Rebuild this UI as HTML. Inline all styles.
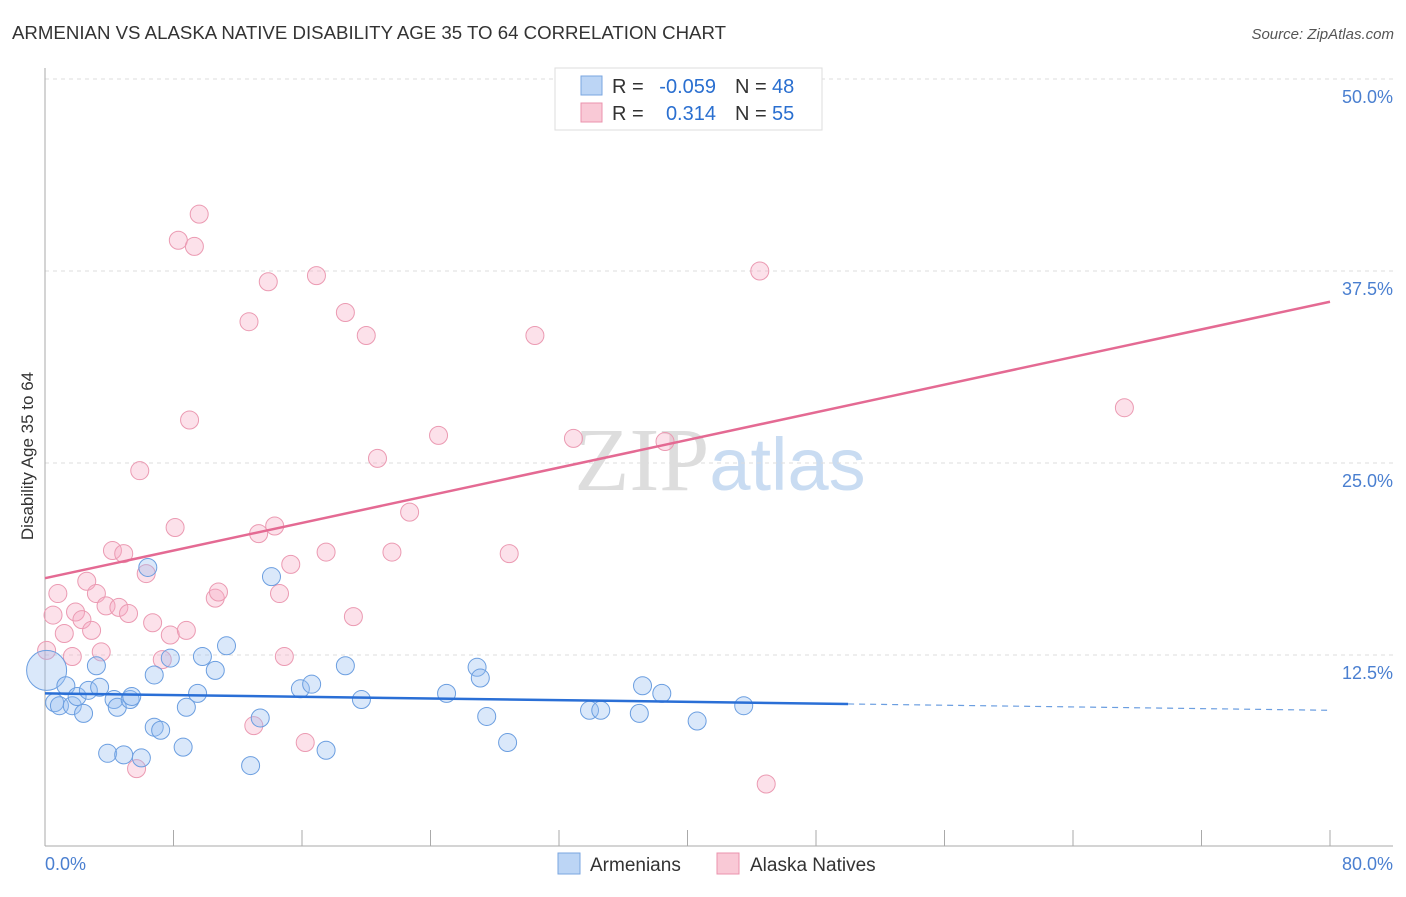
<!DOCTYPE html>
<html><head><meta charset="utf-8"><style>
body{margin:0;background:#fff;font-family:"Liberation Sans",sans-serif}
</style></head><body>
<svg width="1406" height="892" xmlns="http://www.w3.org/2000/svg" id="chart" font-family="Liberation Sans, sans-serif">
<text x="12" y="39" font-size="18" fill="#333" textLength="714" lengthAdjust="spacingAndGlyphs">ARMENIAN VS ALASKA NATIVE DISABILITY AGE 35 TO 64 CORRELATION CHART</text>
<text x="1394" y="39" font-size="15" fill="#555" font-style="italic" text-anchor="end">Source: ZipAtlas.com</text>
<text x="720" y="490" font-size="90" text-anchor="middle"><tspan fill="#ddd" font-family="Liberation Serif, serif">ZIP</tspan><tspan fill="#c9dcf2" font-size="74" font-weight="normal">atlas</tspan></text>
<g id="grid"></g>
<line x1="45" y1="68" x2="45" y2="846" stroke="#aaa"/>
<line x1="45" y1="846" x2="1393" y2="846" stroke="#aaa"/>
<text transform="translate(33,456) rotate(-90)" font-size="17" fill="#333" text-anchor="middle">Disability Age 35 to 64</text>
<text x="45" y="870" font-size="18" fill="#4a7fd0">0.0%</text>
<text x="1393" y="870" font-size="18" fill="#4a7fd0" text-anchor="end">80.0%</text>
<g id="pts"></g>
<g id="lines"></g>
<g font-size="20">
<rect x="555" y="68" width="267" height="62" fill="#fff" stroke="#ddd"/>
<rect x="581" y="76" width="21" height="19" fill="#bcd5f5" stroke="#7aa6e0"/>
<rect x="581" y="103" width="21" height="19" fill="#f9c9d6" stroke="#eb93ad"/>
<text x="612" y="93" fill="#333">R =</text>
<text x="716" y="93" fill="#2a6fd0" text-anchor="end">-0.059</text>
<text x="735" y="93" fill="#333">N =</text>
<text x="772" y="93" fill="#2a6fd0">48</text>
<text x="612" y="120" fill="#333">R =</text>
<text x="716" y="120" fill="#2a6fd0" text-anchor="end">0.314</text>
<text x="735" y="120" fill="#333">N =</text>
<text x="772" y="120" fill="#2a6fd0">55</text>
</g>
<g>
<rect x="558" y="853" width="22" height="21" fill="#bcd5f5" stroke="#7aa6e0"/>
<text x="590" y="871" font-size="19" fill="#333">Armenians</text>
<rect x="717" y="853" width="22" height="21" fill="#f9c9d6" stroke="#eb93ad"/>
<text x="750" y="871" font-size="19" fill="#333">Alaska Natives</text>
</g>
</svg>
<script>
const yTicks=[12.5,25,37.5,50];
const yTickLabels=["12.5%","25.0%","37.5%","50.0%"];
const xTicks=[0,8,16,24,32,40,48,56,64,72,80];
const blueX=[0.1,0.6,0.9,1.3,1.7,2.0,2.4,2.7,3.2,3.4,3.9,4.3,4.5,4.9,5.3,5.4,6.0,6.4,6.8,6.8,7.2,7.8,8.6,8.8,9.5,9.8,10.6,11.3,12.8,13.4,14.1,15.9,16.6,17.5,18.7,19.7,25.0,26.9,27.1,27.5,28.8,33.9,34.6,37.0,37.2,38.4,40.6,43.5];
const blueY=[11.5,9.4,9.2,10.5,9.2,9.8,8.7,10.2,11.8,10.4,6.1,9.6,9.1,6.0,9.6,9.8,5.8,18.2,11.2,7.8,7.6,12.3,6.5,9.1,10.0,12.4,11.5,13.1,5.3,8.4,17.6,10.3,10.6,6.3,11.8,9.6,10.0,11.7,11.0,8.5,6.8,8.9,8.9,8.7,10.5,10.0,8.2,9.2];
const pinkX=[0.1,0.5,0.8,1.2,1.7,1.9,2.3,2.6,2.9,3.2,3.5,3.8,4.2,4.6,4.9,5.2,5.7,5.9,6.3,6.7,7.3,7.8,8.1,8.3,8.8,9.0,9.3,9.6,10.6,10.8,12.7,13.0,13.3,13.9,14.3,14.6,14.9,15.3,16.2,16.9,17.5,18.7,19.2,20.0,20.7,21.6,22.7,24.5,28.9,30.5,32.9,38.6,44.5,44.9,67.2];
const pinkY=[12.8,15.1,16.5,13.9,12.4,15.3,14.8,17.3,14.1,16.5,12.7,15.7,19.3,15.6,19.1,15.2,5.1,24.5,17.8,14.6,12.2,13.8,20.8,39.5,14.1,27.8,39.1,41.2,16.2,16.6,34.2,7.9,20.4,36.8,20.9,16.5,12.4,18.4,6.8,37.2,19.2,34.8,15.0,33.3,25.3,19.2,21.8,26.8,19.1,33.3,26.6,26.4,37.5,4.1,28.6];
const blueTrend=[10.0,8.9], blueSolidEnd=50;
const pinkTrend=[17.5,35.5];
const NS="http://www.w3.org/2000/svg";
const X=v=>45+v/80*1285, Y=v=>847-v*15.36;
function mk(t,a,p){const e=document.createElementNS(NS,t);for(const k in a)e.setAttribute(k,a[k]);p.appendChild(e);return e;}
const grid=document.getElementById('grid');
yTicks.forEach((t,i)=>{
 const l=mk('line',{x1:45,x2:1393,y1:Y(t),y2:Y(t),stroke:'#ddd','stroke-dasharray':'4,4'},grid);
 
 
 const tx=mk('text',{x:1393,y:Y(t)+24,'font-size':18,fill:'#4a7fd0','text-anchor':'end'},grid);
 tx.textContent=yTickLabels[i];
 
 
});
xTicks.forEach(t=>{
 const l=mk('line',{x1:X(t),x2:X(t),y1:830,y2:846,stroke:'#aaa'},grid);
 
 
});
const pts=document.getElementById('pts');
pinkX.forEach((x,i)=>{
 const c=mk('circle',{cx:X(x),cy:Y(pinkY[i]),r:9,fill:'rgba(245,170,195,0.35)',stroke:'#eb9ab2','stroke-width':1},pts);
 
 
});
blueX.forEach((x,i)=>{
 const c=mk('circle',{cx:X(x),cy:Y(blueY[i]),r:i==0?20:9,fill:'rgba(150,190,240,0.35)',stroke:'#6b9ee0','stroke-width':1},pts);
 
 
});
const L=document.getElementById('lines');
const by=x=>blueTrend[0]+(blueTrend[1]-blueTrend[0])*x/80;
let a=mk('line',{x1:X(0),y1:Y(by(0)),x2:X(blueSolidEnd),y2:Y(by(blueSolidEnd)),stroke:'#2a6fd6','stroke-width':2.5},L);


let b=mk('line',{x1:X(blueSolidEnd),y1:Y(by(blueSolidEnd)),x2:X(80),y2:Y(by(80)),stroke:'#6b9ee0','stroke-width':1.2,'stroke-dasharray':'6,5'},L);


let p=mk('line',{x1:X(0),y1:Y(pinkTrend[0]),x2:X(80),y2:Y(pinkTrend[1]),stroke:'#e46a93','stroke-width':2.5},L);


</script>
</body></html>
